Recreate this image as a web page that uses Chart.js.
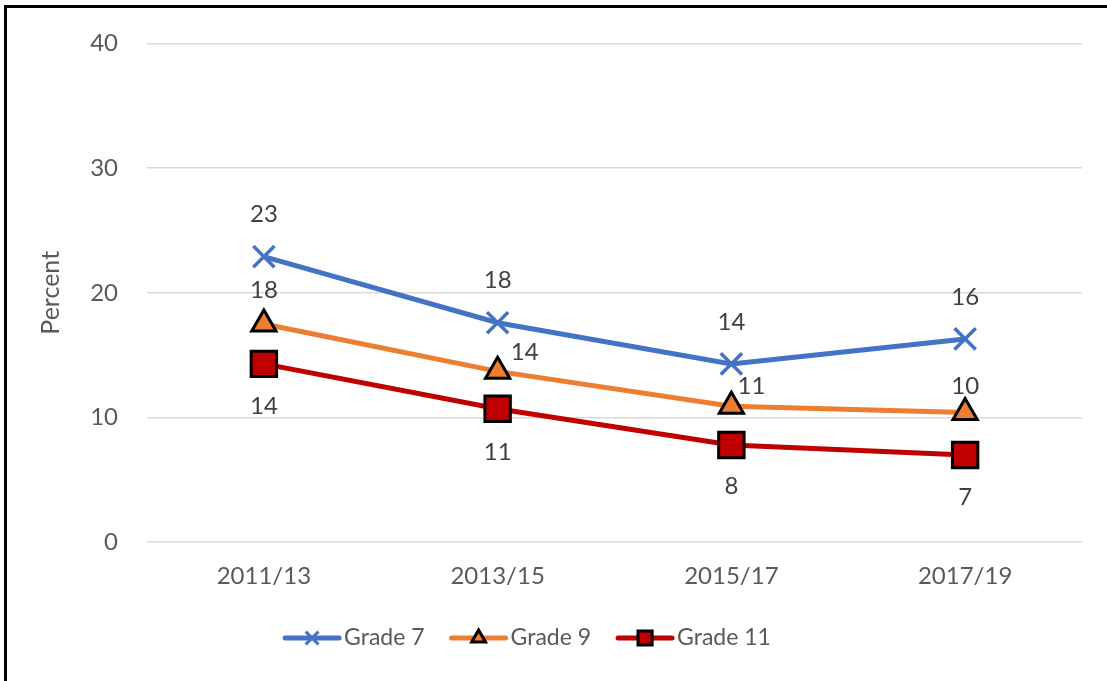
<!DOCTYPE html>
<html>
<head>
<meta charset="utf-8">
<script src="https://cdn.jsdelivr.net/npm/chart.js@4/dist/chart.umd.min.js"></script>
<style>
  body { margin: 0; background: #fff; }
  #wrap { position: relative; width: 1107px; height: 681px; }
  #marco { position: absolute; left: 4px; top: 5px; right: 0; bottom: 0;
           border-top: 3px solid #000; border-left: 3px solid #000; pointer-events: none; }
</style>
</head>
<body>
<div id="wrap">
  <canvas id="grafica"></canvas>
  <div id="marco"></div>
</div>
<script>
// Datos
const periodos = ['2011/13', '2013/15', '2015/17', '2017/19'];
const nombres = ['Grade 7', 'Grade 9', 'Grade 11'];
const grado7 = [22.9, 17.6, 14.3, 16.3];
const grado9 = [17.5, 13.7, 10.9, 10.4];
const grado11 = [14.3, 10.7, 7.8, 7.0];

Chart.defaults.font.family = 'Lato';

// Desplazamiento de cada etiqueta respecto a su punto (como en el original)
const desplazamientos = [
  [[0, -42], [0, -42], [0, -42], [0, -42]],
  [[0, -34], [27, -19], [20, -20], [0, -26]],
  [[0, 42], [0, 43], [0, 41], [0, 42]]
];

const etiquetas = {
  id: 'etiquetas',
  afterDatasetsDraw(chart) {
    const ctx = chart.ctx;
    ctx.save();
    ctx.font = '24px Lato';
    ctx.fillStyle = '#404040';
    ctx.textAlign = 'center';
    ctx.textBaseline = 'middle';
    chart.data.datasets.forEach((ds, i) => {
      chart.getDatasetMeta(i).data.forEach((pt, j) => {
        const [dx, dy] = desplazamientos[i][j];
        ctx.fillText(Math.round(ds.data[j]), pt.x + dx, pt.y + dy);
      });
    });
    ctx.restore();
  }
};

// Leyenda estilo Excel: linea + marcador
const marcadoresLeyenda = [9, 8, 10];
const leyenda = {
  id: 'leyenda',
  afterDraw(chart) {
    const ctx = chart.ctx;
    ctx.save();
    ctx.font = '23px Lato';
    const largo = 58, sepTexto = 3, sepItem = 25;
    const anchos = chart.data.datasets.map(ds => ctx.measureText(ds.label).width);
    const total = anchos.reduce((s, w) => s + largo + sepTexto + w, 0) + sepItem * (anchos.length - 1);
    let x = 527 - total / 2;
    const y = 638;
    chart.data.datasets.forEach((ds, i) => {
      ctx.strokeStyle = ds.borderColor;
      ctx.lineWidth = 5;
      ctx.lineCap = 'round';
      ctx.beginPath();
      ctx.moveTo(x + 2, y);
      ctx.lineTo(x + largo - 2, y);
      ctx.stroke();
      ctx.lineCap = 'butt';
      ctx.fillStyle = ds.pointBackgroundColor;
      ctx.strokeStyle = ds.pointBorderColor;
      ctx.lineWidth = 3;
      Chart.helpers.drawPoint(ctx, {pointStyle: ds.pointStyle, radius: marcadoresLeyenda[i], rotation: 0, borderWidth: 3}, x + largo / 2, y);
      ctx.fillStyle = '#595959';
      ctx.textAlign = 'left';
      ctx.textBaseline = 'middle';
      ctx.fillText(ds.label, x + largo + sepTexto, y);
      x += largo + sepTexto + anchos[i] + sepItem;
    });
    ctx.restore();
  }
};

new Chart(document.getElementById('grafica').getContext('2d'), {
  type: 'line',
  data: {
    labels: periodos,
    datasets: [{
      label: nombres[0],
      data: grado7,
      borderColor: '#4472C4',
      backgroundColor: '#4472C4',
      borderWidth: 5,
      pointStyle: 'crossRot',
      pointRadius: 15,
      pointBorderWidth: 3.5,
      pointBorderColor: '#4472C4',
      pointBackgroundColor: '#4472C4'
    }, {
      label: nombres[1],
      data: grado9,
      borderColor: '#ED7D31',
      backgroundColor: '#ED7D31',
      borderWidth: 5,
      pointStyle: 'triangle',
      pointRadius: 14,
      pointBorderWidth: 3,
      pointBorderColor: '#000000',
      pointBackgroundColor: '#ED7D31'
    }, {
      label: nombres[2],
      data: grado11,
      borderColor: '#C00000',
      backgroundColor: '#C00000',
      borderWidth: 5,
      pointStyle: 'rect',
      pointRadius: 18,
      pointBorderWidth: 3,
      pointBorderColor: '#000000',
      pointBackgroundColor: '#C00000'
    }]
  },
  options: {
    responsive: true,
    maintainAspectRatio: false,
    animation: false,
    layout: { padding: { left: 8, top: 38, right: 25, bottom: 78 } },
    plugins: { legend: { display: false }, tooltip: { enabled: false } },
    scales: {
      x: {
        offset: true,
        grid: { display: false },
        border: { display: false },
        ticks: { color: '#595959', font: { size: 24 }, padding: 12, maxRotation: 0 }
      },
      y: {
        min: 0,
        max: 40,
        ticks: { stepSize: 10, color: '#595959', font: { size: 24 }, padding: 29 },
        grid: { color: '#d9d9d9', lineWidth: 1.5, drawTicks: false },
        border: { display: false },
        title: { display: true, text: 'Percent', color: '#595959', font: { size: 25 }, padding: { top: 28, bottom: 0 } },
        afterFit(escala) { escala.width = 139; }
      }
    }
  },
  plugins: [etiquetas, leyenda]
});
</script>
</body>
</html>
